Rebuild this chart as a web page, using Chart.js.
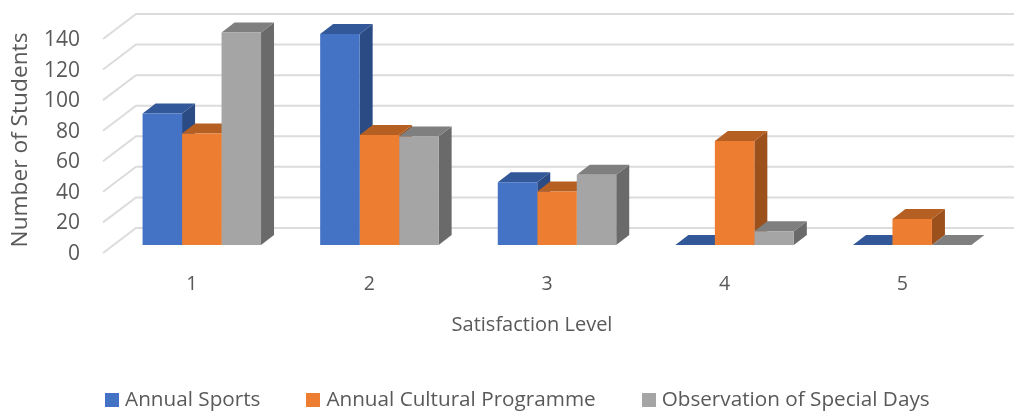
<!DOCTYPE html>
<html>
<head>
<meta charset="utf-8">
<script src="https://cdn.jsdelivr.net/npm/chart.js@4"></script>
<style>
  html,body{margin:0;padding:0;background:#fff;}
  canvas{display:block;}
</style>
</head>
<body>
<canvas id="chart" width="1014" height="414"></canvas>
<script>
var categories = ['1','2','3','4','5'];
var annualSports = [86,138,41,0,0];
var annualCultural = [73,72,35,68,17];
var specialDays = [139,71,46,9,0];

var FONT = '"Open Sans"';
var TEXT = '#595959';
var GRID = '#dcdcdc';

// fake 3d: vector from the front of the floor to the back wall, and how far
// the bars stand in from the front, and how deep they are
var WALL = {x:33,y:-25};
var BAR_IN = {x:10,y:-8};
var BAR_DEPTH = {x:13,y:-10};

function poly(ctx,pts,color){
  ctx.fillStyle = color;
  ctx.beginPath();
  pts.forEach((p,i)=>{ i ? ctx.lineTo(p[0],p[1]) : ctx.moveTo(p[0],p[1]); });
  ctx.closePath();
  ctx.fill();
}

// legend swatch as a small canvas, the normal box leaves too wide a gap before the text
function swatch(color){
  var c = document.createElement('canvas');
  c.width = 14;
  c.height = 14;
  var g = c.getContext('2d');
  g.fillStyle = color;
  g.fillRect(0,0,14,14);
  return c;
}

var walls = {
  id:'walls',
  afterLayout(chart){
    // titles and legend sit off-centre in the original, ticks are already placed by now
    chart.scales.y.top -= 12;
    chart.scales.x.right -= 30;
    chart.legend.left += 24;
    chart.legend.right += 24;
    chart.legend.top -= 7;
  },
  beforeDatasetsDraw(chart){
    var ctx = chart.ctx, y = chart.scales.y, left = chart.chartArea.left;
    var right = chart.scales.x.getPixelForValue(4) + chart.scales.x.getPixelForValue(1) - chart.scales.x.getPixelForValue(0);
    ctx.save();
    ctx.strokeStyle = GRID;
    ctx.lineWidth = 2;
    y.ticks.forEach(t=>{
      var py = y.getPixelForValue(t.value);
      ctx.beginPath();
      ctx.moveTo(left,py);
      ctx.lineTo(left+WALL.x,py+WALL.y);
      ctx.lineTo(right+WALL.x,py+WALL.y);
      ctx.stroke();
    });

    // sides and tops go first, left to right, the fronts cover what they must
    ctx.translate(BAR_IN.x,BAR_IN.y);
    categories.forEach((c,i)=>{
      chart.data.datasets.forEach((ds,d)=>{
        var b = chart.getDatasetMeta(d).data[i];
        var x0 = b.x-b.width/2, x1 = b.x+b.width/2;
        var dx = BAR_DEPTH.x, dy = BAR_DEPTH.y;
        if (b.base-b.y > 0) poly(ctx,[[x1,b.y],[x1+dx,b.y+dy],[x1+dx,b.base+dy],[x1,b.base]],ds.sideColor);
        poly(ctx,[[x0,b.y],[x0+dx,b.y+dy],[x1+dx,b.y+dy],[x1,b.y]],ds.topColor);
      });
    });
    ctx.restore();
    ctx.save();
    ctx.translate(BAR_IN.x,BAR_IN.y);
  },
  afterDatasetsDraw(chart){
    chart.ctx.restore();
  }
};

new Chart(document.getElementById('chart'),{
  type:'bar',
  data:{
    labels:categories,
    datasets:[
      {label:'Annual Sports',data:annualSports,backgroundColor:'#4472c4',sideColor:'#2b4b85',topColor:'#335899'},
      {label:'Annual Cultural Programme',data:annualCultural,backgroundColor:'#ed7d31',sideColor:'#9c511d',topColor:'#b55f23'},
      {label:'Observation of Special Days',data:specialDays,backgroundColor:'#a5a5a5',sideColor:'#6a6a6a',topColor:'#7f7f7f'},
    ]
  },
  options:{
    responsive:false,
    animation:false,
    categoryPercentage:0.667,
    barPercentage:1,
    layout:{padding:{top:39,left:0,right:23,bottom:-13}},
    scales:{
      x:{
        grid:{display:false},
        border:{display:false},
        ticks:{color:TEXT,font:{family:FONT,size:19.5},padding:12,maxRotation:0},
        title:{display:true,text:'Satisfaction Level',color:TEXT,font:{family:FONT,size:20},padding:{top:10,bottom:9}},
        afterFit(s){ s.height = 93; },
      },
      y:{
        min:0,
        max:140,
        grid:{display:false},
        border:{display:false},
        ticks:{stepSize:20,color:TEXT,font:{family:FONT,size:21},padding:15,labelOffset:1},
        title:{display:true,text:'Number of Students',color:TEXT,font:{family:FONT,size:22.7},padding:{top:6.5,bottom:0}},
        afterFit(s){ s.width = 103; },
      }
    },
    plugins:{
      legend:{
        position:'bottom',
        labels:{
          color:TEXT,
          font:{family:FONT,size:20.7},
          usePointStyle:true,
          boxWidth:5.3,
          boxHeight:14,
          padding:50.35,
          generateLabels(chart){
            var items = Chart.defaults.plugins.legend.labels.generateLabels(chart);
            items.forEach(it=>{ it.pointStyle = swatch(it.fillStyle); });
            return items;
          }
        }
      },
      tooltip:{enabled:false}
    }
  },
  plugins:[walls]
});
</script>
</body>
</html>
